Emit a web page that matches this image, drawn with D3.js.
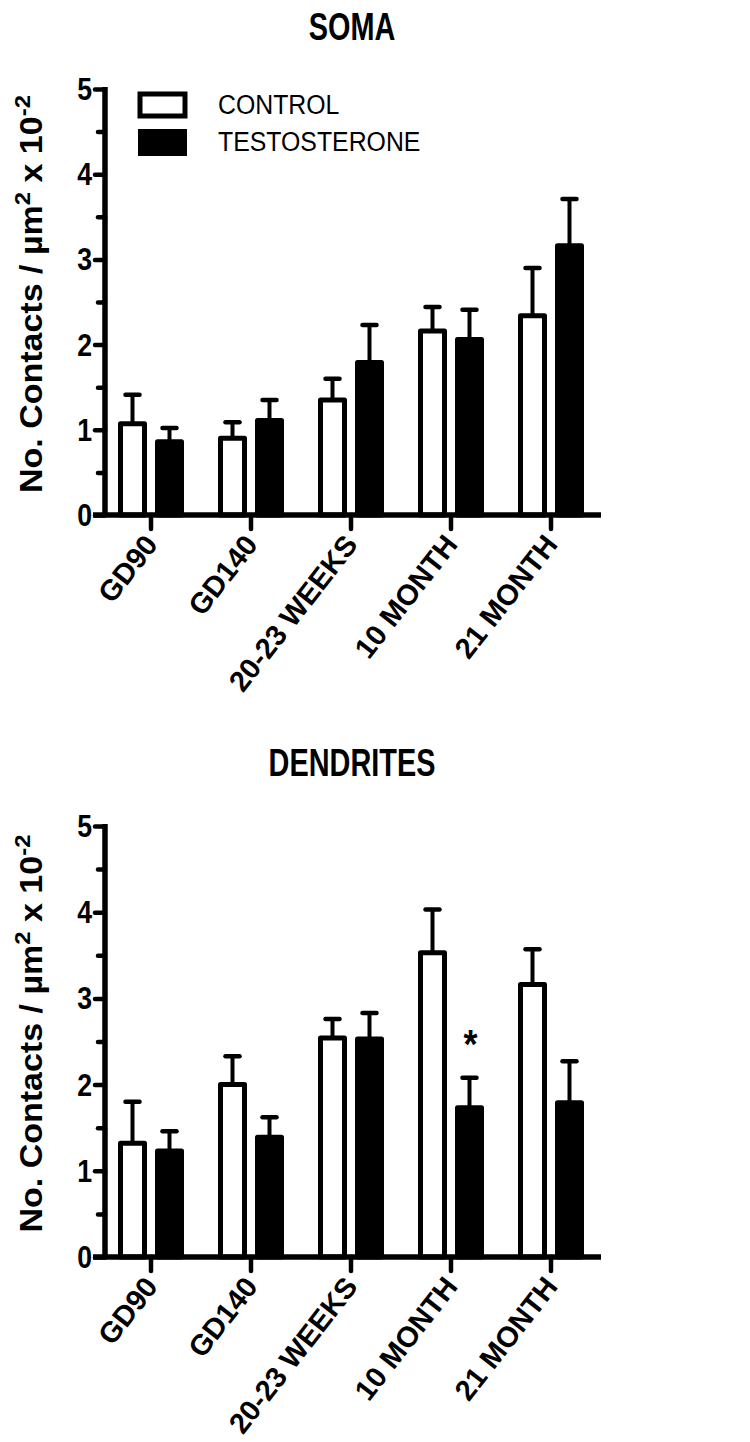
<!DOCTYPE html>
<html>
<head>
<meta charset="utf-8">
<script src="https://cdn.jsdelivr.net/npm/d3@7"></script>
<style>
  body { margin: 0; background: #fff; }
  svg text { font-family: "Liberation Sans", Arial, sans-serif; fill: #000; }
</style>
</head>
<body>
<div id="display"></div>
<script>
// ------- data -----------
var categories = ["GD90", "GD140", "20-23 WEEKS", "10 MONTH", "21 MONTH"];
var series_names = ["CONTROL", "TESTOSTERONE"];
var y_ticks = [0, 1, 2, 3, 4, 5];

var soma_control = [1.07, 0.90, 1.35, 2.16, 2.34];
var soma_control_err = [0.34, 0.19, 0.25, 0.28, 0.56];
var soma_testo = [0.86, 1.11, 1.79, 2.06, 3.16];
var soma_testo_err = [0.16, 0.24, 0.44, 0.35, 0.55];

var dend_control = [1.32, 2.00, 2.54, 3.53, 3.16];
var dend_control_err = [0.48, 0.33, 0.22, 0.50, 0.41];
var dend_testo = [1.23, 1.39, 2.53, 1.73, 1.79];
var dend_testo_err = [0.23, 0.23, 0.30, 0.35, 0.48];

var dend_stars = ["", "", "", "*", ""];   // over the testosterone bar

var svg = d3.select("#display").append("svg")
  .attr("width", 750).attr("height", 1442);

// text in the original is a bit narrower than plain Arial
function squash(x, y, sx, rot) {
  return "translate(" + x + "," + y + ") scale(" + sx + ",1)" + (rot ? " rotate(" + rot + ")" : "");
}

// ------- one panel -----------
function draw_panel(opt) {
  var g = svg.append("g");
  var y = d3.scaleLinear().domain([0, 5]).range([opt.y0, opt.y1]);
  var x = d3.scaleBand().domain(categories).range([101, 601]);
  var sub = d3.scalePoint().domain(series_names).range([-18.5, 18.5]);

  // title
  g.append("text")
    .attr("transform", squash(352, opt.titleY, 0.76))
    .attr("text-anchor", "middle")
    .style("font-size", "38px").style("font-weight", "bold")
    .text(opt.title);

  // y axis
  var yAxis = d3.axisLeft(y)
    .tickValues(d3.range(0, 5.01, 0.5))
    .tickSize(10)
    .tickFormat("");
  var ya = g.append("g").attr("transform", "translate(105,0)").call(yAxis);
  ya.select(".domain").remove();
  ya.selectAll(".tick line")
    .attr("x2", function(d) { return d % 1 === 0 ? -10 : -7; })
    .attr("stroke", "#000").attr("stroke-width", 4.5).attr("stroke-linecap", "round");
  g.append("line")
    .attr("x1", 105).attr("x2", 105)
    .attr("y1", y(5) - 2).attr("y2", y(0))
    .attr("stroke", "#000").attr("stroke-width", 5.5);

  g.selectAll("text.ytick").data(y_ticks).enter().append("text")
    .classed("ytick", true)
    .attr("transform", function(d) { return squash(92, y(d) + 11, 0.86); })
    .attr("text-anchor", "end")
    .style("font-size", "31px").style("font-weight", "bold")
    .text(function(d) { return d; });

  // y label
  var yl = g.append("text")
    .attr("transform", squash(42, (opt.y0 + opt.y1) / 2 - 8, 0.92, -90))
    .attr("text-anchor", "middle")
    .style("font-size", "34px").style("font-weight", "bold");
  yl.append("tspan").text("No. Contacts / µm");
  yl.append("tspan").attr("dy", -13).style("font-size", "24px").text("2");
  yl.append("tspan").attr("dy", 13).text(" x 10");
  yl.append("tspan").attr("dy", -13).style("font-size", "24px").text("-2");

  // bars
  var flat = [];
  categories.forEach(function(c, i) {
    flat.push({cat: c, s: series_names[0], v: opt.control[i], e: opt.control_err[i]});
    flat.push({cat: c, s: series_names[1], v: opt.testo[i], e: opt.testo_err[i], star: opt.stars ? opt.stars[i] : ""});
  });

  function bx(d) { return x(d.cat) + x.bandwidth() / 2 + sub(d.s); }

  // error bars first so the bar outline sits on top
  g.selectAll("line.err").data(flat).enter().append("line")
    .attr("x1", bx).attr("x2", bx)
    .attr("y1", function(d) { return y(d.v); })
    .attr("y2", function(d) { return y(d.v + d.e); })
    .attr("stroke", "#000").attr("stroke-width", 4);
  g.selectAll("line.cap").data(flat).enter().append("line")
    .attr("x1", function(d) { return bx(d) - 7; })
    .attr("x2", function(d) { return bx(d) + 7; })
    .attr("y1", function(d) { return y(d.v + d.e); })
    .attr("y2", function(d) { return y(d.v + d.e); })
    .attr("stroke", "#000").attr("stroke-width", 4.5).attr("stroke-linecap", "round");

  g.selectAll("rect.bar").data(flat).enter().append("rect")
    .attr("x", function(d) { return bx(d) - 12; })
    .attr("width", 24)
    .attr("y", function(d) { return y(d.v); })
    .attr("height", function(d) { return y(0) - y(d.v); })
    .attr("fill", function(d) { return d.s === "CONTROL" ? "#fff" : "#000"; })
    .attr("stroke", "#000").attr("stroke-width", 5).attr("stroke-linejoin", "round");

  g.selectAll("text.star").data(flat.filter(function(d) { return d.star; })).enter().append("text")
    .attr("transform", function(d) { return squash(bx(d) + 1, y(d.v + d.e) - 20, 0.9); })
    .attr("text-anchor", "middle")
    .style("font-size", "40px").style("font-weight", "bold")
    .text(function(d) { return d.star; });

  // x axis
  g.append("line")
    .attr("x1", 93).attr("x2", 601)
    .attr("y1", y(0)).attr("y2", y(0))
    .attr("stroke", "#000").attr("stroke-width", 5.5);
  g.selectAll("line.xtick").data(categories).enter().append("line")
    .attr("x1", function(d) { return x(d) + x.bandwidth() / 2; })
    .attr("x2", function(d) { return x(d) + x.bandwidth() / 2; })
    .attr("y1", y(0)).attr("y2", y(0) + 14)
    .attr("stroke", "#000").attr("stroke-width", 4.5).attr("stroke-linecap", "round");
  g.selectAll("text.xlab").data(categories).enter().append("text")
    .attr("transform", function(d) { return squash(x(d) + x.bandwidth() / 2 + 8, y(0) + 30, 1, -52); })
    .attr("text-anchor", "end")
    .style("font-size", "29px").style("font-weight", "bold")
    .text(function(d) { return d; });

  // legend
  if (opt.legend) {
    var lg = g.append("g");
    series_names.forEach(function(s, i) {
      lg.append("rect")
        .attr("x", i === 0 ? 140 : 138).attr("y", i === 0 ? 94 : 129)
        .attr("width", i === 0 ? 45 : 49).attr("height", i === 0 ? 22 : 27)
        .attr("fill", i === 0 ? "#fff" : "#000")
        .attr("stroke", "#000").attr("stroke-width", i === 0 ? 5 : 0);
      lg.append("text")
        .attr("transform", squash(218, 114 + i * 37, 0.92))
        .style("font-size", "27px")
        .text(s);
    });
  }
}

draw_panel({
  title: "SOMA", titleY: 40, y0: 515, y1: 89,
  control: soma_control, control_err: soma_control_err,
  testo: soma_testo, testo_err: soma_testo_err, legend: true
});

draw_panel({
  title: "DENDRITES", titleY: 776, y0: 1257, y1: 826,
  control: dend_control, control_err: dend_control_err,
  testo: dend_testo, testo_err: dend_testo_err, stars: dend_stars
});
</script>
</body>
</html>
